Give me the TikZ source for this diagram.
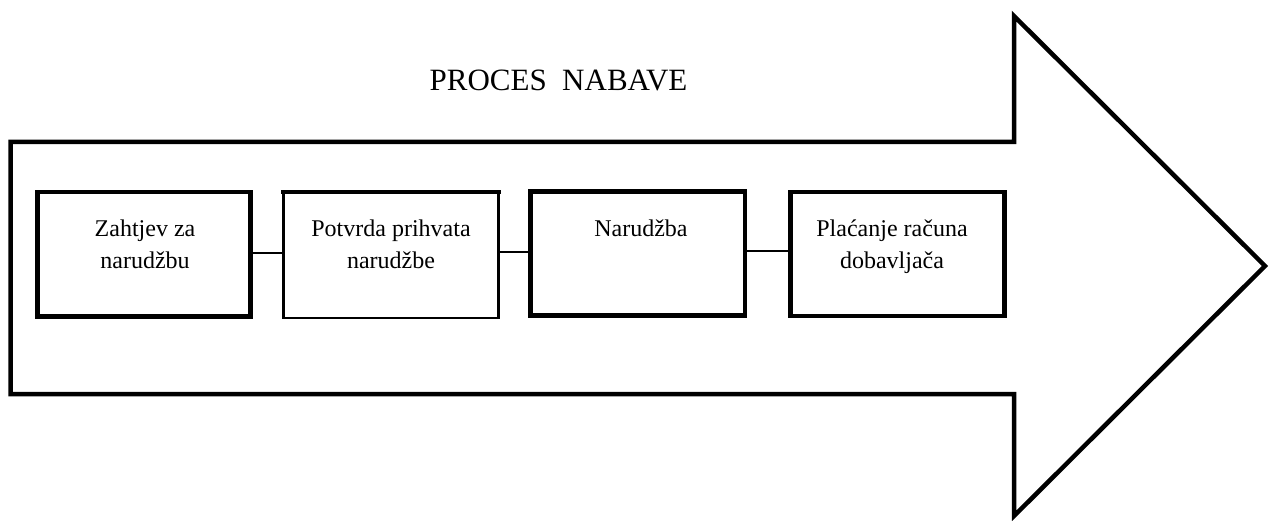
\documentclass[tikz,border=0pt]{standalone}
\usepackage{fontspec}
\setmainfont{Liberation Serif}
\begin{document}
\begin{tikzpicture}[x=1pt,y=-1pt,
  thickline/.style={line width=4.5pt},
  thinline/.style={line width=2.3pt},
  stepbox/.style={draw,thickline,rectangle,inner sep=0pt},
  boxtext/.style={align=center,font=\fontsize{24}{32}\selectfont,inner sep=0pt},
  joinline/.style={thinline}]
\useasboundingbox (0,0) rectangle (1272,521);
% big arrow
\draw[thickline,line join=miter] (10.5,142) -- (1014,142) -- (1014,16) -- (1265,266) -- (1014,516) -- (1014,394) -- (10.5,394) -- cycle;
% title
\node[font=\fontsize{31}{36}\selectfont,inner sep=0pt] (title) at (558.5,80) {PROCES\ \ NABAVE};
% boxes
\node[stepbox,minimum width=213pt,minimum height=124.5pt] (b1) at (144,254.25) {};
\node[draw,thinline,rectangle,inner sep=0pt,minimum width=215pt,minimum height=125pt] (b2) at (391,255.5) {};
\draw[thickline] ([xshift=-1.2pt]b2.north west) -- ([xshift=1.2pt]b2.north east);
\node[stepbox,minimum width=214.5pt,minimum height=124pt] (b3) at (637.75,253.5) {};
\node[stepbox,minimum width=214pt,minimum height=124pt] (b4) at (897.5,254) {};
% texts
\node[boxtext,anchor=north] (t1) at (145,220) {Zahtjev za\\narudžbu};
\node[boxtext,anchor=north] (t2) at (391,220) {Potvrda prihvata\\narudžbe};
\node[boxtext,anchor=north] (t3) at (641,220) {Narudžba};
\node[boxtext,anchor=north] (t4) at (892,220) {Plaćanje računa\\dobavljača};
% connectors
\draw[joinline] ([yshift=1.5pt]b1.east) -- ([yshift=1.5pt]b1.east -| b2.west);
\draw[joinline] ([yshift=3.8pt]b2.east) -- ([yshift=3.8pt]b2.east -| b3.west);
\draw[joinline] ([yshift=2.5pt]b3.east) -- ([yshift=2.5pt]b3.east -| b4.west);
\end{tikzpicture}
\end{document}
